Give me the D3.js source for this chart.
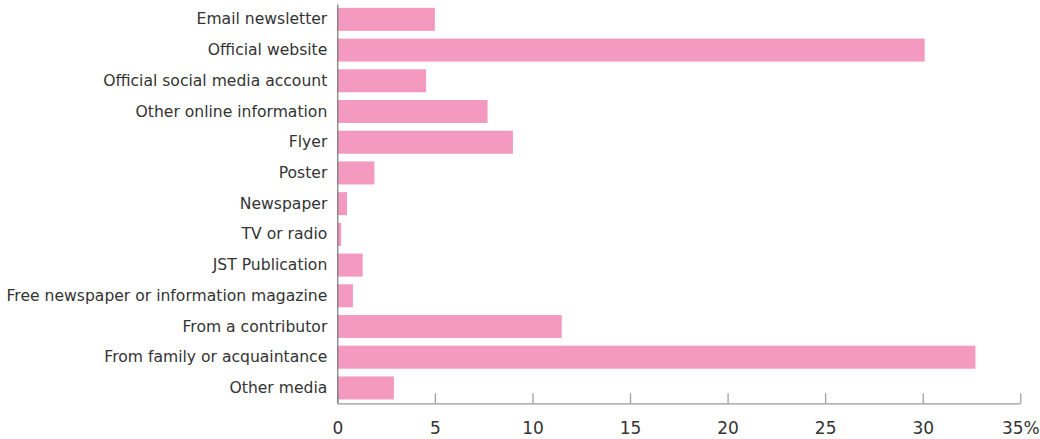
<!DOCTYPE html>
<html>
<head>
<meta charset="utf-8">
<script src="https://cdn.jsdelivr.net/npm/d3@7/dist/d3.min.js"></script>
<style>
html,body{margin:0;padding:0;background:#fff;}
svg{display:block;}
</style>
</head>
<body>
<svg id="chart" width="1040" height="439"></svg>
<script>
const categories = ["Email newsletter","Official website","Official social media account","Other online information","Flyer","Poster","Newspaper","TV or radio","JST Publication","Free newspaper or information magazine","From a contributor","From family or acquaintance","Other media"];
const values = [5.0, 30.1, 4.55, 7.7, 9.0, 1.9, 0.5, 0.2, 1.3, 0.8, 11.5, 32.7, 2.9];
const tickValues = [0,5,10,15,20,25,30,35];
const tickLabels = ["0","5","10","15","20","25","30","35%"];

const svg = d3.select("#chart");
const x0 = 337.3, x1 = 1020.3, yTop = 4, yBot = 403.3;
const x = d3.scaleLinear().domain([0,35]).range([x0,x1]);
const y = d3.scaleBand().domain(categories).range([yTop,yBot]).paddingInner(0.25).paddingOuter(0.125);

svg.append("g").selectAll("rect").data(categories).join("rect")
  .attr("x", x(0))
  .attr("y", d => y(d))
  .attr("width", (d,i) => x(values[i]) - x(0))
  .attr("height", y.bandwidth())
  .attr("fill", "#f49ac1");

// bottom axis
const xa = svg.append("g").attr("transform", `translate(0,${yBot})`)
  .call(d3.axisBottom(x).tickValues(tickValues).tickSize(-10).tickSizeOuter(0).tickFormat((d,i)=>tickLabels[i]));
xa.select(".domain").attr("stroke","#999").attr("stroke-width",1.2);
xa.selectAll(".tick line").attr("stroke","#999").attr("stroke-width",1.2);
xa.selectAll(".tick text").attr("y", 25).attr("dy","0.35em")
  .attr("font-family","'DejaVu Sans', Verdana, sans-serif").attr("font-size",17).attr("fill","#333");

// left axis
const ya = svg.append("g").attr("transform", `translate(${x0},0)`)
  .call(d3.axisLeft(y).tickSize(0).tickPadding(10));
ya.select(".domain").attr("stroke","#777").attr("stroke-width",1.2);
ya.selectAll(".tick text").attr("font-family","'DejaVu Sans', Verdana, sans-serif").attr("font-size",15.6).attr("fill","#333");
</script>
</body>
</html>
